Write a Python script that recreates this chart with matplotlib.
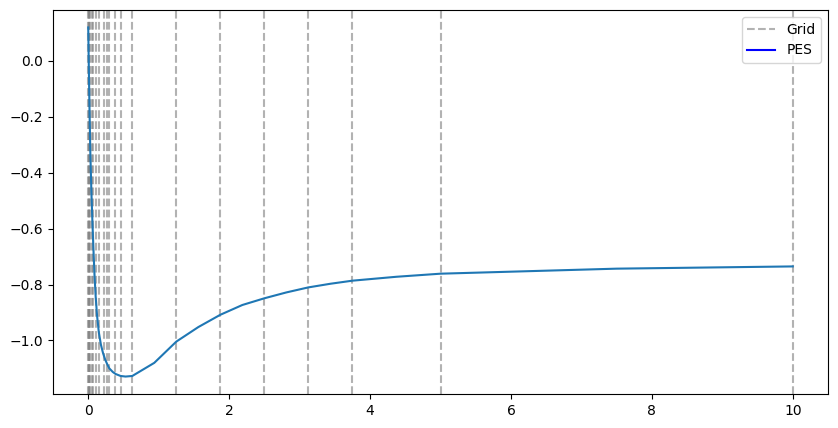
import matplotlib.pyplot as plt
from matplotlib.lines import Line2D

# grid points (dashed vertical lines)
grid_points = [0.0, 0.007, 0.015, 0.028, 0.047, 0.071, 0.104, 0.152,
               0.217, 0.26, 0.30, 0.38, 0.464, 0.625, 1.25, 1.875,
               2.5, 3.125, 3.75, 5.0, 10.0]

# potential energy surface samples
pes_r = [0.0, 0.01, 0.02, 0.03, 0.045, 0.06, 0.075, 0.09, 0.105, 0.125,
         0.15, 0.18, 0.21, 0.24, 0.27, 0.30, 0.35, 0.39, 0.46, 0.53,
         0.625, 0.9375, 1.25, 1.5625, 1.875, 2.1875, 2.5, 2.8125, 3.125,
         3.4375, 3.75, 4.375, 5.0, 7.5, 10.0]
pes_e = [0.12, -0.05, -0.2, -0.33, -0.47, -0.58, -0.68, -0.77, -0.84, -0.91,
         -0.97, -1.015, -1.045, -1.068, -1.085, -1.10, -1.113, -1.12, -1.127, -1.129,
         -1.127, -1.08, -1.004, -0.952, -0.908, -0.873, -0.849, -0.828, -0.810,
         -0.797, -0.786, -0.772, -0.761, -0.743, -0.735]

fig = plt.figure(figsize=(8.38, 4.28), dpi=100)
ax = fig.add_axes([53 / 838, 34 / 428, 775 / 838, 384 / 428])

for g in grid_points:
    ax.axvline(g, color='gray', linestyle='--', alpha=0.6)

ax.plot(pes_r, pes_e)

handles = [Line2D([0], [0], color='gray', linestyle='--', alpha=0.6),
           Line2D([0], [0], color='blue')]
ax.legend(handles, ['Grid', 'PES'], loc='upper right')

fig.savefig('out.png', dpi=100)
